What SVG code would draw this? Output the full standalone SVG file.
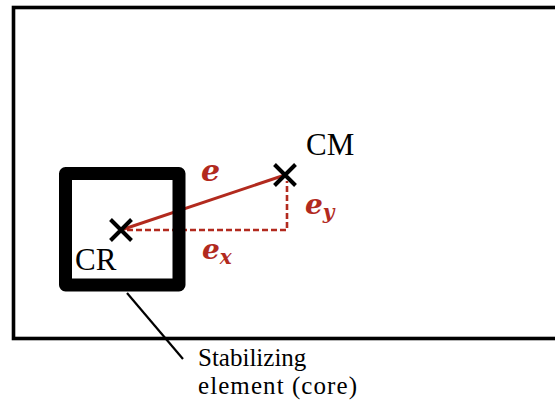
<svg xmlns="http://www.w3.org/2000/svg" width="555" height="401" viewBox="0 0 555 401">
<style>
.lbl{font-family:"Liberation Serif","Times New Roman",serif;fill:#000}
.math{font-family:"DejaVu Serif",serif;font-weight:bold;font-style:italic;fill:#B22A1E}
.cross{stroke:#000;stroke-width:4;fill:none}
.red{stroke:#B22A1E;fill:none}
</style>
<rect width="555" height="401" fill="#fff"/>
<g id="plan">
<rect x="13.5" y="7.5" width="560" height="331" fill="none" stroke="#000" stroke-width="3.6"/>
</g>
<g id="connectors">
<line class="red" x1="121" y1="230" x2="285" y2="175" stroke-width="3"/>
<path class="red" d="M127,230 H287 V181" stroke-width="2.6" stroke-dasharray="6,3" stroke-linejoin="round"/>
<line x1="127" y1="293" x2="183" y2="359" stroke="#000" stroke-width="2.2"/>
</g>
<g id="core">
<rect x="65.5" y="173.5" width="113.5" height="111.5" fill="none" stroke="#000" stroke-width="13" stroke-linejoin="round"/>
</g>
<g id="CR">
<path class="cross" d="M110.5,219.5 L131.5,240.5 M131.5,219.5 L110.5,240.5"/>
<text class="lbl" x="75" y="270" font-size="31">CR</text>
</g>
<g id="CM">
<path class="cross" d="M274.5,164.5 L295.5,185.5 M295.5,164.5 L274.5,185.5"/>
<text class="lbl" x="306" y="155" font-size="31">CM</text>
</g>
<g id="labels">
<text class="math" x="201" y="181" font-size="30">e</text>
<text class="math" x="305" y="214" font-size="28">e<tspan font-size="20" dy="5">y</tspan></text>
<text class="math" x="202" y="259" font-size="28">e<tspan font-size="20" dy="5">x</tspan></text>
</g>
<g id="core-note">
<text class="lbl" font-size="25"><tspan x="198" y="366">Stabilizing</tspan><tspan x="198" y="394" textLength="159" lengthAdjust="spacing">element (core)</tspan></text>
</g>
</svg>
